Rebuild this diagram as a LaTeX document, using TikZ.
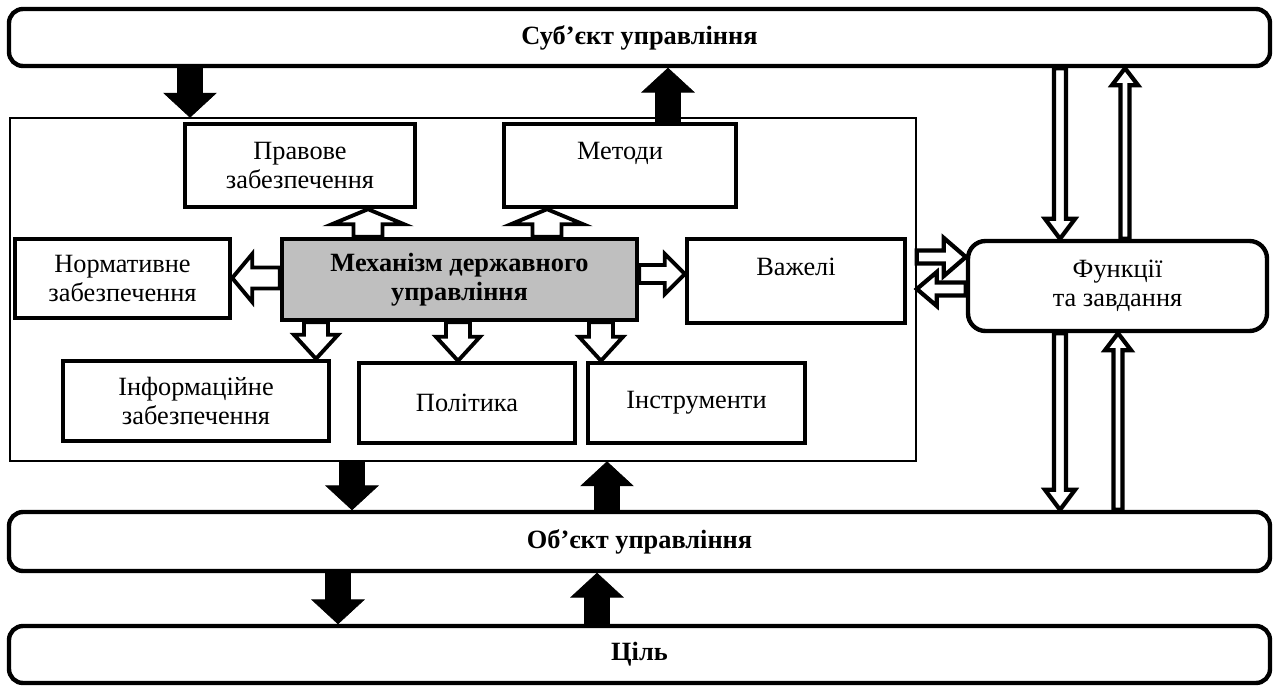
\documentclass[tikz,border=0pt]{standalone}
\usepackage{fontspec}
\setmainfont{Liberation Serif}
\usepackage{tikz}
\usetikzlibrary{calc}
\usetikzlibrary{fit}
\usetikzlibrary{positioning}

% sizes of the block arrows, in pixels of the layout grid
\tikzset{
  arr shaft/.code={\def\arrshaft{#1*0.02cm}},
  arr head/.code={\def\arrhead{#1*0.02cm}},
  arr len/.code={\def\arrlen{#1*0.02cm}},
  arr shaft=10, arr head=20, arr len=20,
  block arrow/.style={line join=miter, to path={
    let \p1=(\tikztostart), \p2=(\tikztotarget),
        \n1={veclen(\x2-\x1,\y2-\y1)},
        \n2={(\x2-\x1)/\n1}, \n3={(\y2-\y1)/\n1} in
    ({\x1-\n3*\arrshaft},{\y1+\n2*\arrshaft})
    -- ({\x2-\n2*\arrlen-\n3*\arrshaft},{\y2-\n3*\arrlen+\n2*\arrshaft})
    -- ({\x2-\n2*\arrlen-\n3*\arrhead},{\y2-\n3*\arrlen+\n2*\arrhead})
    -- (\x2,\y2)
    -- ({\x2-\n2*\arrlen+\n3*\arrhead},{\y2-\n3*\arrlen-\n2*\arrhead})
    -- ({\x2-\n2*\arrlen+\n3*\arrshaft},{\y2-\n3*\arrlen-\n2*\arrshaft})
    -- ({\x1+\n3*\arrshaft},{\y1-\n2*\arrshaft}) -- cycle}}
}

\begin{document}
\begin{tikzpicture}[x=0.02cm,y=-0.02cm,
    sz/.style 2 args={minimum width=#1*0.02cm, minimum height=#2*0.02cm},
    box/.style={draw, line width=2.5pt, inner sep=0pt, align=center,
                font=\fontsize{15}{16.6}\selectfont},
    rbox/.style={box, rounded corners=8pt},
    bbox/.style={rbox, font=\bfseries\fontsize{15}{16.6}\selectfont},
    solidarr/.style={block arrow, fill=black, arr shaft=12.5, arr head=26, arr len=24},
    hollowarr/.style={block arrow, draw, fill=white, line width=2.2pt},
    thinarr/.style={block arrow, draw, fill=white, line width=2.4pt}]

  \useasboundingbox (0,0) rectangle (1277,686);

  % levels of management
  \node[bbox, sz={1261}{57}] (subj) at (639.5,37.5) {Суб’єкт управління};
  \node[bbox, sz={1261}{59}] (obj) at (639.5,541.5) {Об’єкт управління};
  \node[bbox, sz={1261}{57}] (cil) at (639.5,654.5) {Ціль};

  % the mechanism and its parts
  \node[draw, line width=0.9pt, inner sep=0pt, fit={(10,118) (916,461)}] (frame) {};
  \node[box, sz={230}{83}] (prav) at (300,165.5) {Правове\\забезпечення};
  \node[box, sz={232}{83}] (metody) at (620,165.5) {Методи\\\mbox{}};
  \node[box, sz={215}{79}] (norm) at (122.5,278.5) {Нормативне\\забезпечення};
  \node[box, sz={355}{81}, fill=black!25,
        font=\bfseries\fontsize{15}{16.6}\selectfont] (mech) at (459.5,279.5) {Механізм державного\\управління};
  \node[box, sz={218}{84}] (vazh) at (796,281) {Важелі\\\mbox{}};
  \node[box, sz={266}{80}] (info) at (196,401) {Інформаційне\\забезпечення};
  \node[box, sz={216}{80}] (polit) at (467,403) {Політика};
  \node[box, sz={217}{80}] (instr) at (696.5,403) {Інструменти};
  \node[rbox, rounded corners=10pt, sz={299}{90}] (funk) at (1117.5,286) {Функції\\та завдання};

  % where the arrows run
  \coordinate (a1) at (190,0);
  \coordinate (a2) at (668,0);
  \coordinate (a3) at (352,0);
  \coordinate (a4) at (607,0);
  \coordinate (a5) at (338,0);
  \coordinate (a6) at (597,0);
  \coordinate (b1) at (368,0);
  \coordinate (b2) at (547,0);
  \coordinate (b3) at (316,0);
  \coordinate (b4) at (458,0);
  \coordinate (b5) at (601,0);
  \coordinate (c1) at (0,278);
  \coordinate (c2) at (0,274);
  \coordinate (d1) at (0,257);
  \coordinate (d2) at (0,289);
  \coordinate (e1) at (1060,0);
  \coordinate (e2) at (1125,0);
  \coordinate (e3) at (1118,0);

  % black arrows
  \draw[solidarr] (subj.south -| a1) to (frame.north -| a1);
  \draw[solidarr] (metody.north -| a2) to (subj.south -| a2);
  \draw[solidarr] (frame.south -| a3) to (obj.north -| a3);
  \draw[solidarr] (obj.north -| a4) to (frame.south -| a4);
  \draw[solidarr] (obj.south -| a5) to (cil.north -| a5);
  \draw[solidarr] (cil.north -| a6) to (obj.south -| a6);

  % open arrows out of the mechanism
  \draw[hollowarr, arr shaft=14.5, arr head=36, arr len=15] (mech.north -| b1) to (prav.south -| b1);
  \draw[hollowarr, arr shaft=14.5, arr head=36, arr len=15] (mech.north -| b2) to (metody.south -| b2);
  \draw[hollowarr, arr shaft=10.5, arr head=24, arr len=20] (mech.west |- c1) to (norm.east |- c1);
  \draw[hollowarr, arr shaft=9, arr head=20, arr len=20] (mech.east |- c2) to (vazh.west |- c2);
  \foreach \t/\c in {info/b3, polit/b4, instr/b5}
    \draw[hollowarr, arr shaft=12, arr head=22, arr len=24] (mech.south -| \c) to (\t.north -| \c);

  % thin open arrows to and from the functions
  \draw[thinarr, arr shaft=6.5, arr head=19, arr len=22] (frame.east |- d1) to (funk.west |- d1);
  \draw[thinarr, arr shaft=6.5, arr head=17, arr len=20] (funk.west |- d2) to (frame.east |- d2);
  \draw[thinarr, arr shaft=6, arr head=15, arr len=20] (subj.south -| e1) to (funk.north -| e1);
  \draw[thinarr, arr shaft=4.5, arr head=13, arr len=17] (funk.north -| e2) to (subj.south -| e2);
  \draw[thinarr, arr shaft=6, arr head=15, arr len=20] (funk.south -| e1) to (obj.north -| e1);
  \draw[thinarr, arr shaft=4.5, arr head=13, arr len=17] (obj.north -| e3) to (funk.south -| e3);

\end{tikzpicture}
\end{document}
